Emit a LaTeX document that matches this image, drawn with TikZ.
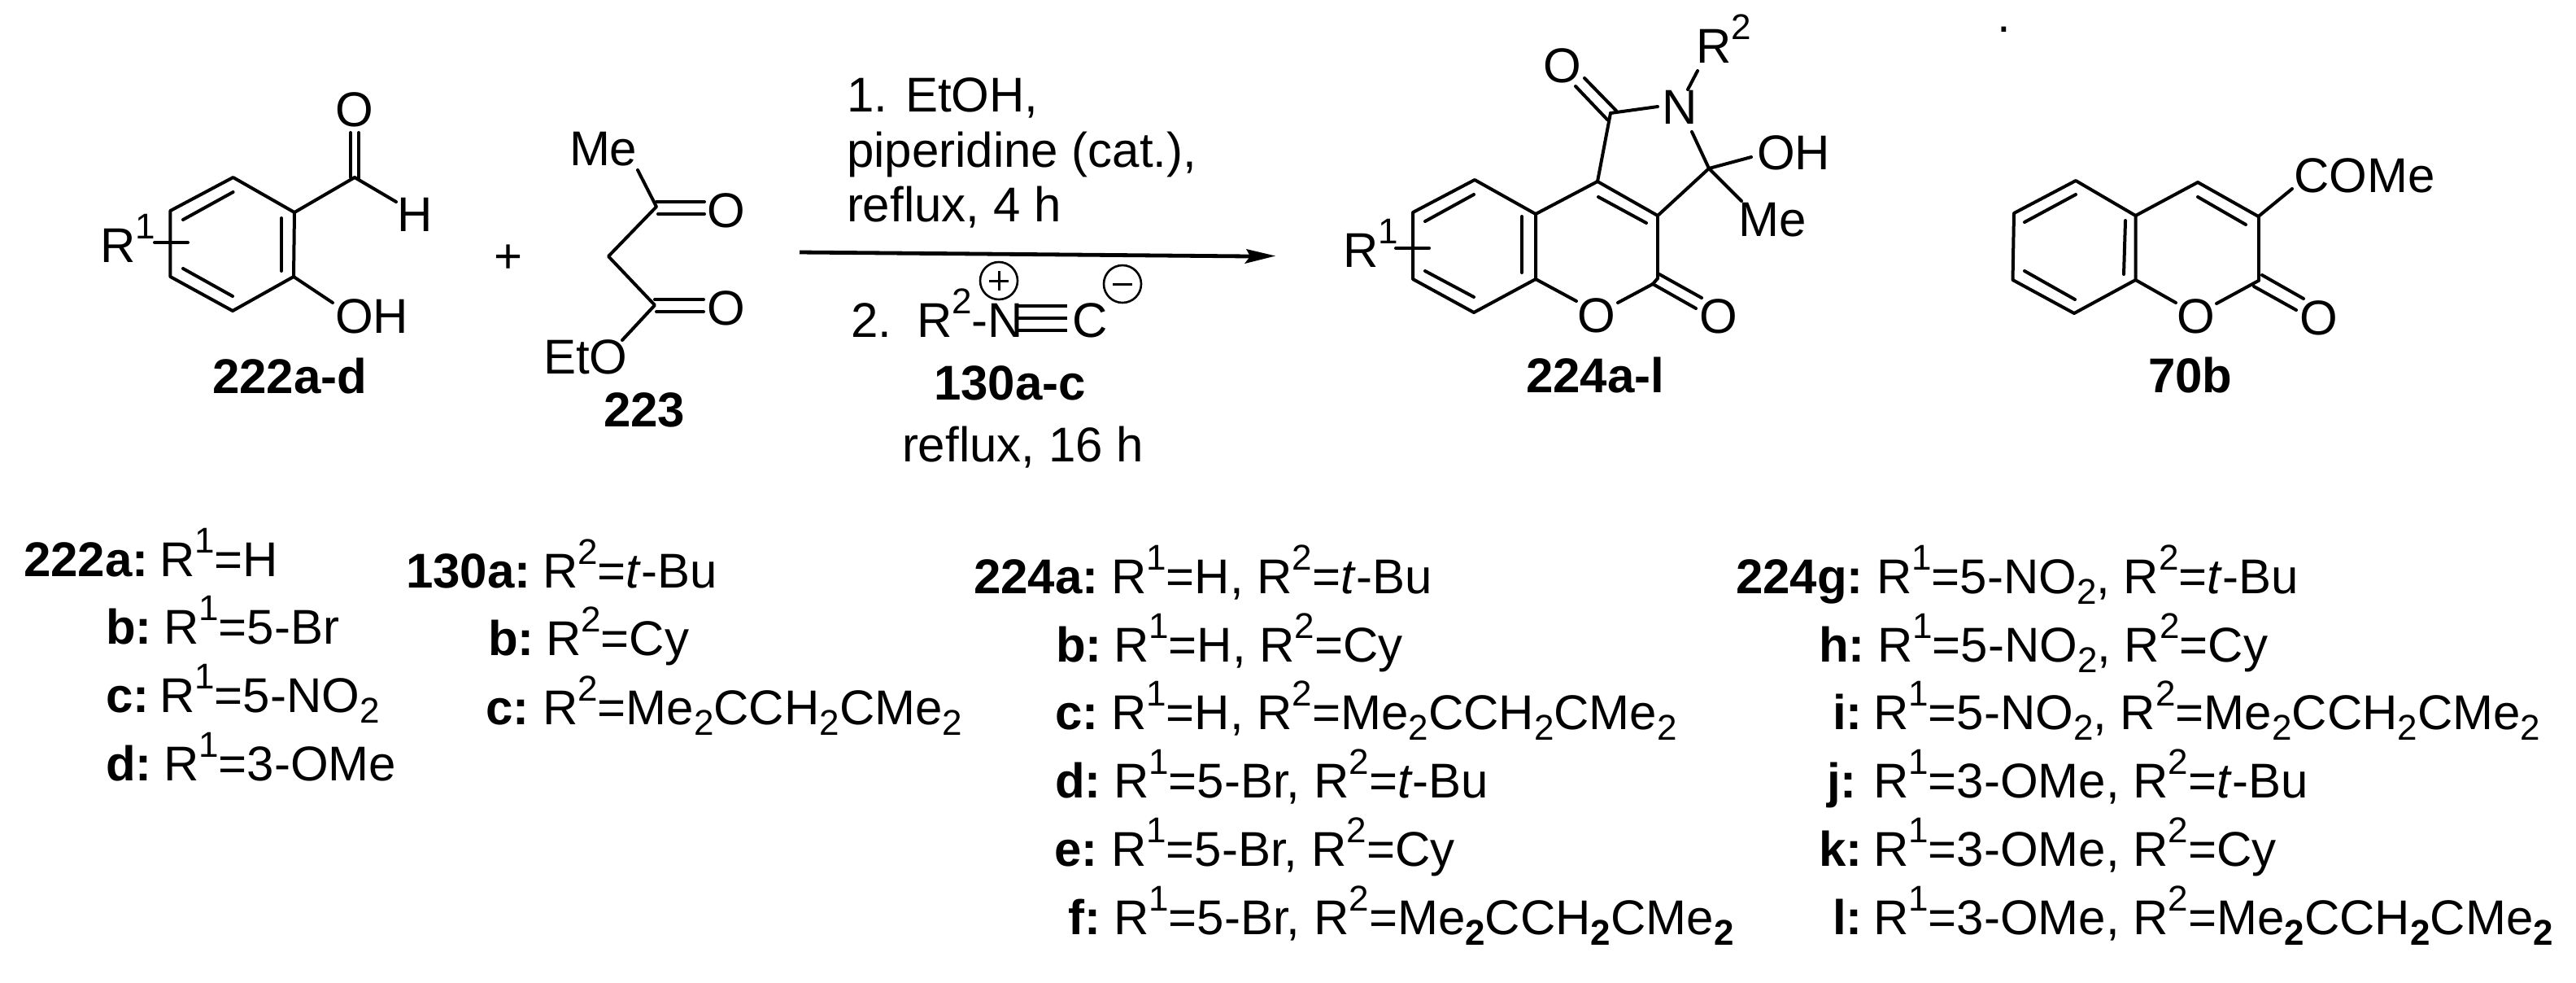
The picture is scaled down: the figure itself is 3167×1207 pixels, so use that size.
\documentclass[tikz,border=0pt]{standalone}
\usepackage{fontspec}
\setmainfont{Liberation Sans}
\newcommand\Sp[1]{\raisebox{0.47em}{\fontsize{22}{23}\selectfont #1}}
\newcommand\Sb[1]{\raisebox{-0.22em}{\fontsize{22}{23}\selectfont #1}}
\newcommand\SbB[1]{\raisebox{-0.22em}{\fontsize{22}{23}\selectfont\bfseries #1}}
\tikzset{
  bond/.style={line width=2pt,line cap=round,line join=round},
  txt/.style={anchor=base west,inner sep=0pt,outer sep=0pt,font=\fontsize{30}{32}\selectfont},
  lab/.style={txt,font=\fontsize{30}{32}\selectfont\bfseries},
  atom/.style={anchor=base,inner sep=0pt,outer sep=0pt,font=\fontsize{30}{32}\selectfont},
  charge/.style={circle,draw,line width=1.3pt,minimum size=23pt,inner sep=0pt}
}
\newcommand\lst[6]{\node[lab] (#1l) at (#2,#4) {#5}; \node[txt] (#1t) at (#3,#4) {#6};}
\begin{document}
\begin{tikzpicture}[x=0.5pt,y=-0.5pt]
\useasboundingbox (0,0) rectangle (3167,1207);
\fill[white] (0,0) rectangle (3167,1207);
% ---------- 222
\foreach \n/\x/\y in {a1/286.6/218,a2/362/261,a3/361/340,a4/286/382,a5/209.4/340,a6/209.4/259,
  i1a/286.6/236,i1b/225/270,i2a/346/268,i2b/346/333,i3a/225/330,i3b/286/364,
  cho/436/218,choa/431/163,chob/441/163,choaa/431/218,chobb/441/220,hb/487/248,ohb/409/372,
  t1a/190/298,t1b/231/298}
  \coordinate (\n) at (\x,\y);
\draw[bond] (a1)--(a2)--(a3)--(a4)--(a5)--(a6)--cycle;
\foreach \a/\b in {i1a/i1b,i2a/i2b,i3a/i3b,a2/cho,cho/hb,a3/ohb,t1a/t1b,choa/choaa,chob/chobb}
  \draw[bond] (\a)--(\b);
\node[txt] (r1a) at (123,322) {R\Sp{1}};
\node[atom] (oa) at (436,155) {O};
\node[txt] (ha) at (488,284) {H};
\node[txt] (oha) at (412,409) {OH};
\node[lab] (n222) at (261,483) {222a-d};
\node[atom] (plus) at (625,335) {+};
% ---------- 223
\foreach \n/\x/\y in {b1/807/254,b2/748/315,b3/805/375,mb/784/209,eb/765/418,
  d1a/807/248,d1b/866/248,d2a/809/263,d2b/866/263,d3a/805/368,d3b/865/368,d4a/807/383,d4b/865/383}
  \coordinate (\n) at (\x,\y);
\draw[bond] (mb)--(b1)--(b2)--(b3)--(eb);
\foreach \a/\b in {d1a/d1b,d2a/d2b,d3a/d3b,d4a/d4b} \draw[bond] (\a)--(\b);
\node[txt] (mea) at (700,203) {Me};
\node[atom] (ob1) at (893,279) {O};
\node[atom] (ob2) at (893,399) {O};
\node[txt] (eto) at (668,459) {EtO};
\node[lab] (n223) at (742,524) {223};
% ---------- arrow
\foreach \n/\x/\y in {ar0/983/310,ar1/1537/315,art/1568/314.5,arh1/1532/306,arh2/1530/324}
  \coordinate (\n) at (\x,\y);
\draw[line width=2.4pt] (ar0)--(ar1);
\fill (art)--(arh1)--(ar1)--(arh2)--cycle;
\node[txt] (c1) at (1041,137) {1. EtOH,};
\node[txt] (c2) at (1041,205) {piperidine (cat.),};
\node[txt] (c3) at (1041,272) {reflux, 4 h};
\node[txt] (c4) at (1046,414) {2.};
\node[txt] (c5) at (1127,414) {R\Sp{2}-N};
\node[txt] (c6) at (1318,414) {C};
\foreach \n/\x/\y in {tr1/1252/376,tr1b/1312/376,tr2/1252/391,tr2b/1312/391,tr3/1252/406,tr3b/1312/406}
  \coordinate (\n) at (\x,\y);
\foreach \a/\b in {tr1/tr1b,tr2/tr2b,tr3/tr3b} \draw[line width=1.6pt] (\a)--(\b);
\node[charge] (cp) at (1228,345) {};
\node[charge] (cm) at (1380,349) {};
\draw[line width=1.5pt] ([xshift=-6pt]cp.center)--([xshift=6pt]cp.center);
\draw[line width=1.5pt] ([yshift=-6pt]cp.center)--([yshift=6pt]cp.center);
\draw[line width=1.5pt] ([xshift=-6pt]cm.center)--([xshift=6pt]cm.center);
\node[lab] (n130) at (1148,491) {130a-c};
\node[txt] (c7) at (1109,567) {reflux, 16 h};
% ---------- 224
\foreach \n/\x/\y in {p1/1813/221,p2/1888/263,p3/1888/343,p4/1812/384,p5/1737/343,p6/1737/261,
  j1a/1812/239,j1b/1752/272,j2a/1871/266,j2b/1871/335,j3a/1752/333,j3b/1812/365,
  c4/1964/223,c3a/2038/265,c2/2038/342,c2b/2032/349,o1a/1938/370,o1b/1989/372,
  j4a/1965/242,j4b/2024/274,
  cot/1980/139,cn/2038/131,ca1/1948/96,ca2/1987/136,cb1/1937/106,cb2/1976/147,
  nr1/2087/87,nr2/2075/110,nc/2080/162,cq/2101/207,oh1/2153/193,me1/2141/247,
  co1/2040/337,co2/2092/366,co3/2032/349,co4/2085/379,
  t2a/1716/305,t2b/1757/305}
  \coordinate (\n) at (\x,\y);
\draw[bond] (p1)--(p2)--(p3)--(p4)--(p5)--(p6)--cycle;
\foreach \a/\b in {j1a/j1b,j2a/j2b,j3a/j3b,j4a/j4b,p2/c4,c4/c3a,c3a/c2,p3/o1a,o1b/c2b,c4/cot,cot/cn,ca1/ca2,cb1/cb2,
  nr1/nr2,nc/cq,c3a/cq,cq/oh1,cq/me1,co1/co2,co3/co4,t2a/t2b,c2/c2b}
  \draw[bond] (\a)--(\b);
\node[txt] (r1p) at (1651,328) {R\Sp{1}};
\node[atom] (op1) at (1921,101) {O};
\node[txt] (np) at (2043,152) {N};
\node[txt] (r2p) at (2085,77) {R\Sp{2}};
\node[txt] (ohp) at (2160,208) {OH};
\node[txt] (mep) at (2137,290) {Me};
\node[atom] (op2) at (1963,408) {O};
\node[atom] (op3) at (2113,409) {O};
\node[lab] (n224) at (1876,482) {224a-l};
% ---------- 70b
\foreach \n/\x/\y in {q1/2552/222,q2/2625.5/265,q3/2625.5/344,q4/2550/385,q5/2474.5/344,q6/2476/262,
  k1a/2552/239,k1b/2489/273,k2a/2613/271,k2b/2611/337,k3a/2489/333,k3b/2551/368,
  q7/2702/224,q8/2776.5/266,q9/2776.5/345,k4a/2702/242,k4b/2761/276,
  q10/2675/372,q11/2725/373,k5a/2781/338,k5b/2832/367,k6a/2771/352,k6b/2823/381,q12/2818/232}
  \coordinate (\n) at (\x,\y);
\draw[bond] (q1)--(q2)--(q3)--(q4)--(q5)--(q6)--cycle;
\foreach \a/\b in {k1a/k1b,k2a/k2b,k3a/k3b,k4a/k4b,q2/q7,q7/q8,q8/q9,q3/q10,q9/q11,k5a/k5b,k6a/k6b,q8/q12}
  \draw[bond] (\a)--(\b);
\node[atom] (oq1) at (2699.5,409) {O};
\node[atom] (oq2) at (2850.5,411) {O};
\node[txt] (come) at (2820,236) {COMe};
\node[lab] (n70) at (2641,482) {70b};
\node[txt] (dot) at (2455,39) {.};
% ---------- lists
\lst{la}{29}{196}{708}{222a:}{R\Sp{1}=H}
\lst{lb}{130}{201}{791}{b:}{R\Sp{1}=5-Br}
\lst{lc}{130}{196}{875}{c:}{R\Sp{1}=5-NO\Sb{2}}
\lst{ld}{130}{201}{959}{d:}{R\Sp{1}=3-OMe}
\lst{ma}{499}{667}{722}{130a:}{R\Sp{2}=\textit{t}-Bu}
\lst{mb}{600}{671}{805}{b:}{R\Sp{2}=Cy}
\lst{mc}{597}{667}{890}{c:}{R\Sp{2}=Me\Sb{2}CCH\Sb{2}CMe\Sb{2}}
\lst{na}{1197}{1366}{729}{224a:}{R\Sp{1}=H, R\Sp{2}=\textit{t}-Bu}
\lst{nb}{1298}{1369}{813}{b:}{R\Sp{1}=H, R\Sp{2}=Cy}
\lst{nc}{1297}{1366}{896}{c:}{R\Sp{1}=H, R\Sp{2}=Me\Sb{2}CCH\Sb{2}CMe\Sb{2}}
\lst{nd}{1297}{1369}{980}{d:}{R\Sp{1}=5-Br, R\Sp{2}=\textit{t}-Bu}
\lst{ne}{1296}{1366}{1064}{e:}{R\Sp{1}=5-Br, R\Sp{2}=Cy}
\lst{nf}{1313}{1369}{1148}{f:}{R\Sp{1}=5-Br, R\Sp{2}=Me\SbB{2}CCH\SbB{2}CMe\SbB{2}}
\lst{oa}{2134}{2307}{729}{224g:}{R\Sp{1}=5-NO\Sb{2}, R\Sp{2}=\textit{t}-Bu}
\lst{ob}{2236}{2308}{813}{h:}{R\Sp{1}=5-NO\Sb{2}, R\Sp{2}=Cy}
\lst{oc}{2253}{2303}{896}{i:}{R\Sp{1}=5-NO\Sb{2}, R\Sp{2}=Me\Sb{2}CCH\Sb{2}CMe\Sb{2}}
\lst{od}{2246}{2303}{980}{j:}{R\Sp{1}=3-OMe, R\Sp{2}=\textit{t}-Bu}
\lst{oe}{2236}{2303}{1064}{k:}{R\Sp{1}=3-OMe, R\Sp{2}=Cy}
\lst{of}{2253}{2303}{1148}{l:}{R\Sp{1}=3-OMe, R\Sp{2}=Me\SbB{2}CCH\SbB{2}CMe\SbB{2}}
\end{tikzpicture}
\end{document}
